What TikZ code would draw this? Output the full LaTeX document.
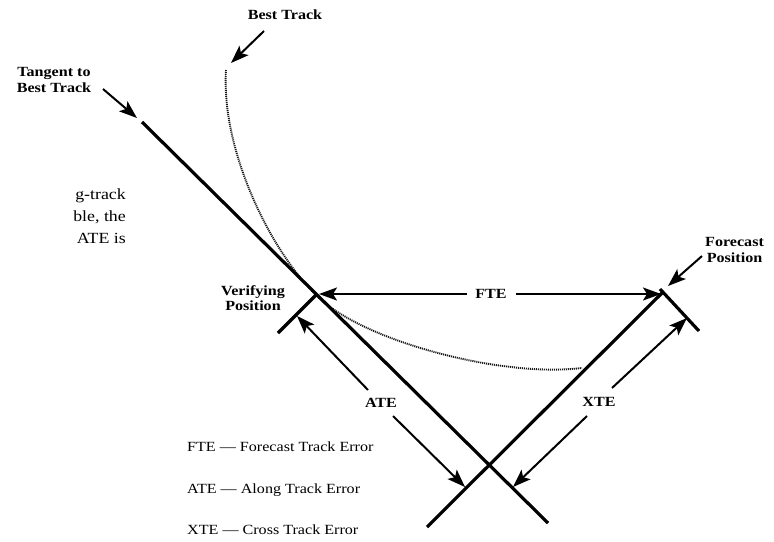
\documentclass[tikz,border=0pt]{standalone}
\usepackage{fontspec}
\setmainfont{Liberation Serif}[FakeStretch=1.15]
\usetikzlibrary{arrows.meta}
\begin{document}
\begin{tikzpicture}[x=1pt,y=-1pt,
  track/.style={line width=3.2pt},
  dimarrow/.style={line width=2pt,-{Stealth[length=18pt,width=13pt,inset=4pt]}},
  lab/.style={font=\bfseries\fontsize{14}{15.5}\selectfont, align=center, inner sep=0pt},
  leg/.style={font=\fontsize{14}{16}\selectfont, anchor=west, inner sep=0pt},
  frag/.style={font=\fontsize{15.5}{18}\selectfont, anchor=east, inner sep=0pt},
  besttrack/.style={line width=1.9pt, black!90, dash pattern=on 1.1pt off 0.9pt}
]
\useasboundingbox (0,0) rectangle (774,541);
\clip (0,0) rectangle (774,541);
% key points
\coordinate (T0) at (142,122);
\coordinate (T1) at (548,523);
\coordinate (V) at (316,295);
\coordinate (Vp) at (278,333);
\coordinate (F) at (663,292);
\coordinate (Fa) at (660,289);
\coordinate (Fp) at (699,331);
\coordinate (F0) at (427,527);
\coordinate (B0) at (226,70);
\coordinate (B1) at (582,368);
% best track (dotted)
\draw[besttrack] (B0) .. controls (221,150) and (270,250) .. (V)
  .. controls (360,340) and (500,378) .. (B1);
% tangent and forecast lines
\draw[track] (T0) -- (T1);
\draw[track] (V) -- (Vp);
\draw[track] (F0) -- (F);
\draw[track] (Fa) -- (Fp);
% labels
\node[lab] (lbest) at (285,15) {Best Track};
\node[lab] (ltan) at (54,80) {Tangent to\\Best Track};
\node[lab] (lver) at (253,298) {Verifying\\Position};
\node[lab, anchor=west] (lfor) at (705,250) {Forecast\\Position};
\node[lab] (lfte) at (491,294) {FTE};
\node[lab] (late) at (381,403) {ATE};
\node[lab] (lxte) at (599,402) {XTE};
% pointer arrows
\coordinate (bs) at (264,31); \coordinate (be) at (231,63);
\draw[dimarrow] (bs) -- (be);
\coordinate (ts) at (103,89); \coordinate (te) at (137,118);
\draw[dimarrow] (ts) -- (te);
\coordinate (fs) at (702,256); \coordinate (fe) at (668,286);
\draw[dimarrow] (fs) -- (fe);
% FTE
\coordinate (ftl) at (467,294); \coordinate (ftle) at (319,294);
\coordinate (ftr) at (516,294); \coordinate (ftre) at (661,294);
\draw[dimarrow] (ftl) -- (ftle);
\draw[dimarrow] (ftr) -- (ftre);
% ATE
\coordinate (a1s) at (368,390); \coordinate (a1e) at (297,316);
\coordinate (a2s) at (393,416); \coordinate (a2e) at (465,487);
\draw[dimarrow] (a1s) -- (a1e);
\draw[dimarrow] (a2s) -- (a2e);
% XTE
\coordinate (x1s) at (612,388); \coordinate (x1e) at (687,318);
\coordinate (x2s) at (587,416); \coordinate (x2e) at (513,487);
\draw[dimarrow] (x1s) -- (x1e);
\draw[dimarrow] (x2s) -- (x2e);
% legend
\node[leg] (leg1) at (187,447) {FTE --- Forecast Track Error};
\node[leg] (leg2) at (187,490) {ATE --- Along Track Error};
\node[leg] (leg3) at (187,530) {XTE --- Cross Track Error};
% cut-off paragraph at left
\node[frag] (p1) at (126,196) {g-track};
\node[frag] (p2) at (126,217) {ble, the};
\node[frag] (p3) at (126,238) {ATE is};
\end{tikzpicture}
\end{document}
